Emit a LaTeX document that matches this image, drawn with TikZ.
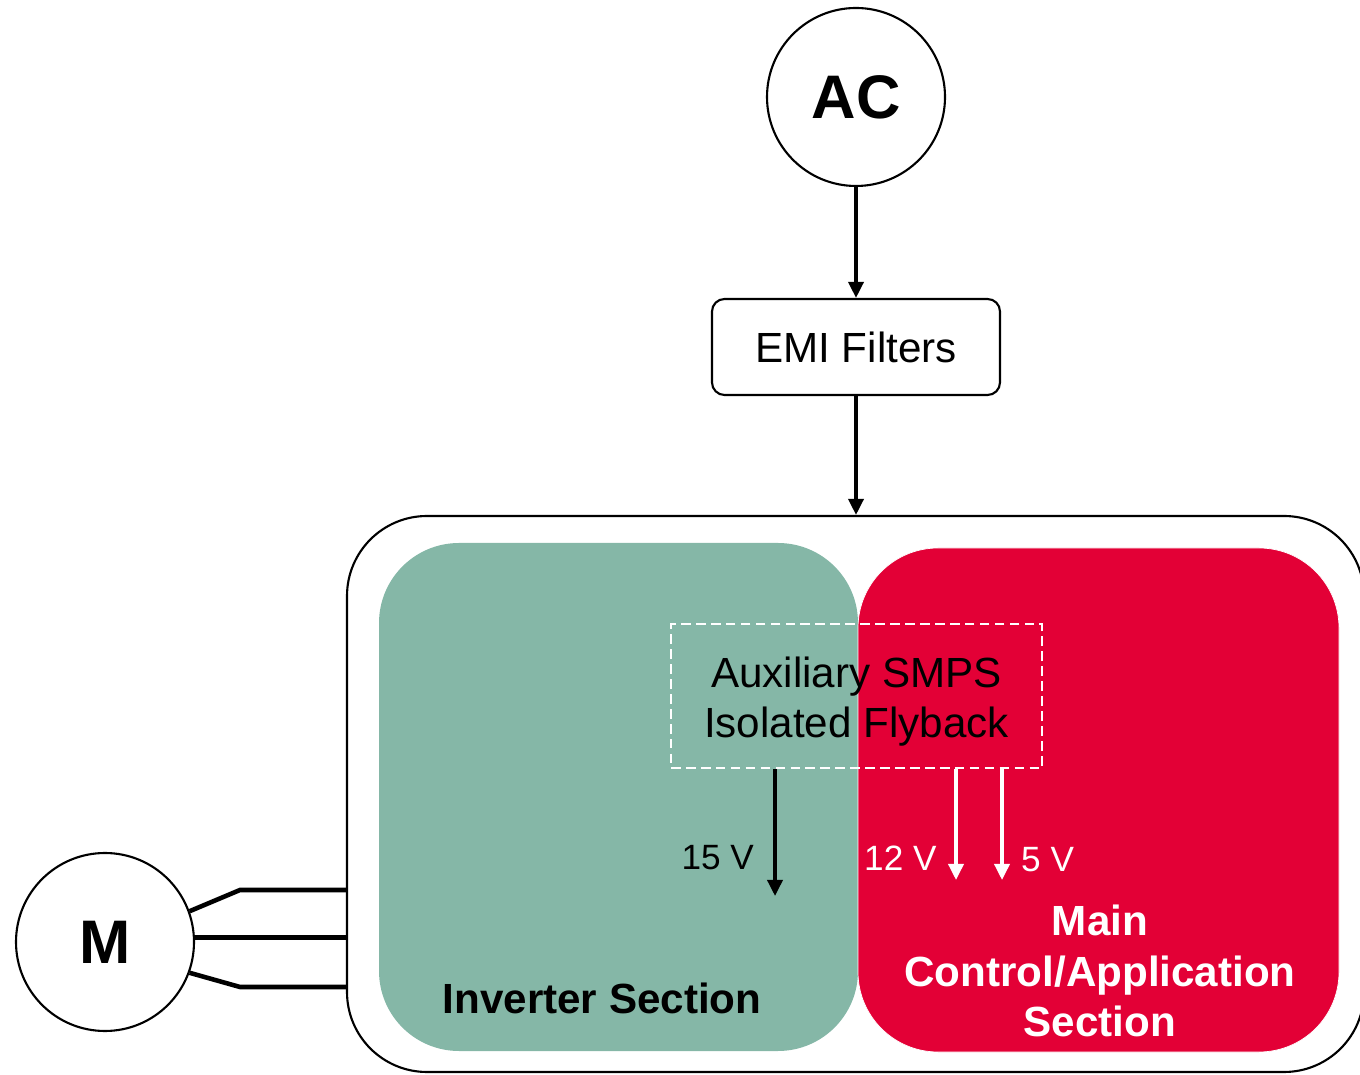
\documentclass[tikz,border=0pt]{standalone}
\usepackage{fontspec}
\setmainfont{Liberation Sans}
\usetikzlibrary{arrows.meta,positioning}

\begin{document}
\begin{tikzpicture}[x=1cm,y=1cm,
    circ/.style={draw, circle, line width=1.2pt, minimum size=3.56cm, inner sep=0pt,
      font=\fontsize{35}{40}\selectfont\bfseries},
    flow/.style={line width=2pt, -{Triangle[width=0.3cm,length=0.32cm]}},
    wflow/.style={flow, white},
    wire/.style={line width=2.6pt},
    section/.style={rounded corners=1.6cm, inner sep=0pt},
    big/.style={font=\fontsize{24}{28.5}\selectfont},
    volt/.style={font=\fontsize{20}{24}\selectfont}]

  % Farben
  \definecolor{invgreen}{RGB}{133,183,167}
  \definecolor{ctrlred}{RGB}{227,0,54}

  \useasboundingbox (0,0) rectangle (27.2,21.48);

  % Quelle und Filter
  \node[circ] (ac) at (17.12,19.54) {AC};
  \node[draw, line width=1.2pt, rounded corners=0.25cm, minimum width=5.76cm,
    minimum height=1.92cm, big] (emi) at (17.12,14.54) {EMI Filters};

  % Platine mit den zwei Bereichen
  \node[draw, line width=1.2pt, section, minimum width=20.34cm,
    minimum height=11.12cm] (board) at (17.11,5.6) {};
  \node[section, fill=invgreen, minimum width=9.58cm, minimum height=10.16cm]
    (inv) at (12.37,5.54) {};
  \node[section, fill=ctrlred, draw=white, line width=0.4pt, minimum width=9.62cm,
    minimum height=10.08cm] (ctrl) at (21.97,5.48) {};

  \draw[flow] (ac) -- (emi);
  \draw[flow] (emi) -- (emi.south |- board.north);

  % Hilfsnetzteil
  \node[draw=white, line width=1.1pt, dash pattern=on 5.5pt off 3pt,
    minimum width=7.42cm, minimum height=2.88cm] (smps) at (17.13,7.56) {};
  \node[big, align=center] (smpstxt) at (17.13,7.44) {Auxiliary SMPS\\Isolated Flyback};

  \coordinate (v15) at (15.5,3.56);
  \coordinate (v12) at (19.12,3.88);
  \coordinate (v5) at (20.04,3.88);
  \draw[flow] (v15 |- smps.south) -- (v15);
  \draw[wflow] (v12 |- smps.south) -- (v12);
  \draw[wflow] (v5 |- smps.south) -- (v5);

  \node[volt, anchor=east] (l15) at (15.2,4.32) {15 V};
  \node[volt, anchor=west, text=white] (l12) at (17.16,4.32) {12 V};
  \node[volt, anchor=west, text=white] (l5) at (20.3,4.28) {5 V};

  \node[big, font=\fontsize{24}{28.5}\selectfont\bfseries] (invtxt) at (12.04,1.52) {Inverter Section};
  \node[big, font=\fontsize{24}{28.5}\selectfont\bfseries, text=white, align=center]
    (ctrltxt) at (22.0,2.06) {Main\\Control/Application\\Section};

  % Motor
  \node[circ] (m) at (2.1,2.64) {M};
  \coordinate (k1) at (4.8,3.68);
  \coordinate (k3) at (4.8,1.74);
  \draw[wire] (m.20) -- (k1) -- (k1 -| board.west);
  \draw[wire] (m.3) -- (m.3 -| board.west);
  \draw[wire] (m.-20) -- (k3) -- (k3 -| board.west);

\end{tikzpicture}
\end{document}
